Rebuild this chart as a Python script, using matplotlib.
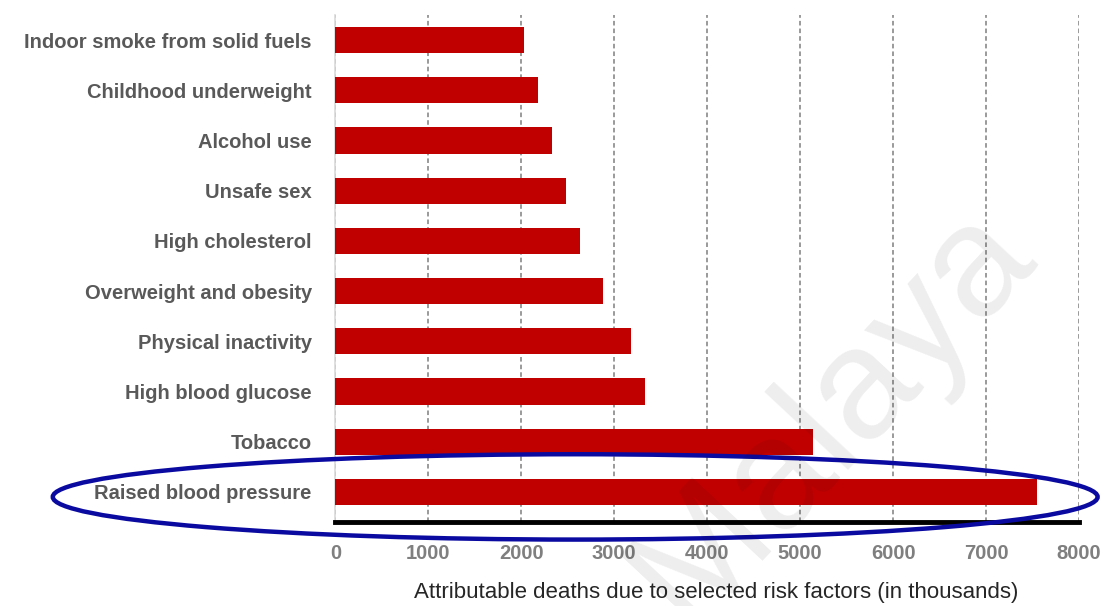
import matplotlib.pyplot as plt
from matplotlib.patches import Ellipse

# risk factors, top to bottom
factors = ["Indoor smoke from solid fuels", "Childhood underweight", "Alcohol use",
           "Unsafe sex", "High cholesterol", "Overweight and obesity",
           "Physical inactivity", "High blood glucose", "Tobacco",
           "Raised blood pressure"]
deaths = [2030, 2180, 2330, 2480, 2635, 2875, 3180, 3330, 5140, 7550]
xticks = [0, 1000, 2000, 3000, 4000, 5000, 6000, 7000, 8000]
xlabel = "Attributable deaths due to selected risk factors (in thousands)"

fig = plt.figure(figsize=(11.05, 6.06), dpi=100)
ax = fig.add_axes([0.3035, 0.1386, 0.673, 0.8366])

pos = list(range(len(factors)))
ax.barh(pos, deaths, height=0.52, color="#c00000", zorder=3)

ax.set_xlim(0, 8000)
ax.set_ylim(9.6, -0.5)
ax.set_xticks(xticks)
ax.set_xticklabels([str(t) for t in xticks])
ax.set_yticks(pos)
ax.set_yticklabels(factors)

ax.xaxis.grid(True, linestyle=(0, (3, 2)), color="#7f7f7f", linewidth=1.1, zorder=1)
ax.yaxis.grid(False)

for s in ["top", "right"]:
    ax.spines[s].set_visible(False)
ax.spines["left"].set_color("#d9d9d9")
ax.spines["left"].set_linewidth(1.2)
ax.spines["bottom"].set_color("black")
ax.spines["bottom"].set_linewidth(3.5)
ax.spines["bottom"].set_zorder(4)

ax.tick_params(axis="both", length=0)
ax.tick_params(axis="x", pad=16)
ax.tick_params(axis="y", pad=17)
for lbl in ax.get_yticklabels():
    lbl.set_family("Liberation Sans")
    lbl.set_fontweight("bold")
    lbl.set_fontsize(14.5)
    lbl.set_color("#595959")
for lbl in ax.get_xticklabels():
    lbl.set_family("Liberation Sans")
    lbl.set_fontweight("bold")
    lbl.set_fontsize(14.5)
    lbl.set_color("#7f7f7f")

ax.set_xlabel(xlabel, family="Liberation Sans", fontsize=16, color="#262626", va="center")
ax.xaxis.set_label_coords(0.512, -0.14)

# highlight ring around the top risk factor
ring = Ellipse((2580, pos[-1] + 0.1), 11240, 1.7, fill=False, edgecolor="#0a0aa0",
               linewidth=3.2, clip_on=False, zorder=5)
ax.add_patch(ring)

# faint watermark laid over the chart
fig.text(0.752, 0.317, "Malaya", fontsize=114, family="Liberation Sans",
         color="black", alpha=0.07, rotation=47, ha="center", va="center", zorder=10)

fig.savefig("out.png", dpi=100)
